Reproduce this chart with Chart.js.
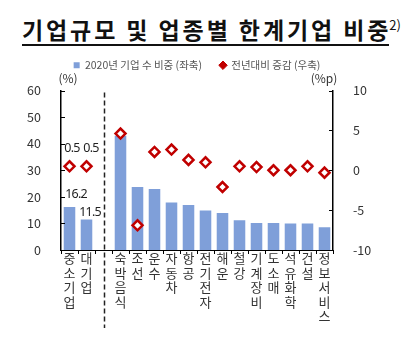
<!DOCTYPE html>
<html>
<head>
<meta charset="utf-8">
<script src="https://cdn.jsdelivr.net/npm/chart.js@4"></script>
<style>
  body { margin: 0; background: #fff; }
  #wrap { position: relative; width: 410px; height: 337px; }
  #title {
    position: absolute; left: 22px; top: 10px; width: 367px;
    font-family: "Noto Sans CJK KR"; font-weight: bold; font-size: 23px; letter-spacing: 2.9px;
    color: #111; border-bottom: 2px solid #111; line-height: 30px; padding-left: 0;
    box-sizing: border-box; white-space: nowrap;
  }
  #title sup { font-size: 13px; font-weight: normal; vertical-align: 9px; margin-left: -2px; letter-spacing: 0; }
  canvas { position: absolute; left: 0; top: 0; }
</style>
</head>
<body>
<div id="wrap">
  <div id="title">기업규모 및 업종별 한계기업 비중<sup>2)</sup></div>
  <canvas id="chart" width="410" height="337"></canvas>
</div>
<script>
// categories ('' is the gap slot where the dashed divider sits)
const categories = ['중소기업', '대기업', '', '숙박음식', '조선', '운수', '자동차', '항공', '전기전자',
    '해운', '철강', '기계장비', '도소매', '석유화학', '건설', '정보서비스'];
// 2020년 기업 수 비중 (좌축, %)
const shareValues = [16.2, 11.5, null, 43.0, 23.7, 22.9, 17.9, 16.9, 14.9, 13.9, 11.2, 10.2, 10.2, 10.0, 10.0, 8.6];
// 전년대비 증감 (우축, %p)
const changeValues = [0.5, 0.5, null, 4.6, -6.9, 2.3, 2.6, 1.3, 1.0, -2.1, 0.5, 0.4, 0.0, 0.0, 0.5, -0.3];
const labeledIndexes = [0, 1]; // only 기업규모 points carry value labels

const font = "'Noto Sans CJK KR', 'Noto Sans', sans-serif";

const extras = {
    id: 'extras',
    beforeInit(chart) {
        // leave a gap under the legend for the unit labels
        const fit = chart.legend.fit;
        chart.legend.fit = function () {
            fit.call(this);
            this.height += 10;
        };
    },
    afterDraw(chart) {
        const ctx = chart.ctx;
        const area = chart.chartArea;
        const x = chart.scales.x, y = chart.scales.y, y1 = chart.scales.y1;
        ctx.save();

        // inward tick marks on both value axes
        ctx.strokeStyle = '#000';
        ctx.lineWidth = 1;
        y.ticks.forEach(t => {
            const py = Math.round(y.getPixelForValue(t.value)) + 0.5;
            ctx.beginPath(); ctx.moveTo(area.left, py); ctx.lineTo(area.left + 4, py); ctx.stroke();
        });
        y1.ticks.forEach(t => {
            const py = Math.round(y1.getPixelForValue(t.value)) + 0.5;
            ctx.beginPath(); ctx.moveTo(area.right, py); ctx.lineTo(area.right - 4, py); ctx.stroke();
        });

        // dashed divider between 기업규모 and 업종
        const gx = Math.round(x.getPixelForValue(2)) + 0.5;
        ctx.setLineDash([5, 3]);
        ctx.lineWidth = 1.5;
        ctx.strokeStyle = '#222';
        ctx.beginPath(); ctx.moveTo(gx, area.top + 2); ctx.lineTo(gx, 328); ctx.stroke();
        ctx.setLineDash([]);

        // axis unit labels
        ctx.fillStyle = '#333';
        ctx.font = '12px ' + font;
        ctx.textBaseline = 'bottom';
        ctx.textAlign = 'center';
        ctx.fillText('(%)', area.left + 7, area.top - 6);
        ctx.fillText('(%p)', area.right - 9, area.top - 6);

        // value labels
        ctx.font = "12.5px 'Noto Sans', sans-serif";
        ctx.letterSpacing = '-0.8px';
        ctx.fillStyle = '#222';
        ctx.textBaseline = 'alphabetic';
        const barMeta = chart.getDatasetMeta(0), lineMeta = chart.getDatasetMeta(1);
        labeledIndexes.forEach(i => {
            const b = barMeta.data[i], p = lineMeta.data[i];
            const first = i === 0;
            ctx.fillText(shareValues[i].toFixed(1), b.x + (first ? 6.5 : 3.5), b.y - (first ? 9 : 3));
            ctx.fillText(changeValues[i].toFixed(1), p.x + (first ? 2.5 : 4.5), p.y - 14);
        });
        ctx.restore();
    }
};

new Chart(document.getElementById('chart'), {
    type: 'bar',
    data: {
        labels: categories.map(c => c.split('')),
        datasets: [{
            label: '2020년 기업 수 비중 (좌축)',
            data: shareValues,
            backgroundColor: '#7f9fd9',
            yAxisID: 'y',
            order: 1,
            pointStyle: 'rect',
            barPercentage: 0.68,
            categoryPercentage: 1
        }, {
            type: 'line',
            label: '전년대비 증감 (우축)',
            data: changeValues,
            yAxisID: 'y1',
            order: 0,
            showLine: false,
            pointStyle: 'rectRot',
            pointRadius: 5,
            pointBorderWidth: 2.5,
            borderColor: '#c00000',
            backgroundColor: '#fff',
            pointBackgroundColor: '#fff'
        }]
    },
    options: {
        responsive: false,
        animation: false,
        layout: { padding: { top: 42, right: 16 } },
        plugins: {
            legend: {
                position: 'top',
                labels: {
                    usePointStyle: true,
                    boxWidth: 6,
                    boxHeight: 6,
                    padding: 18,
                    color: '#555',
                    font: { family: font, size: 10.5 },
                    sort: (a, b) => a.datasetIndex - b.datasetIndex,
                    generateLabels(chart) {
                        const items = Chart.defaults.plugins.legend.labels.generateLabels(chart);
                        items.forEach(it => {
                            if (it.datasetIndex === 1) {
                                it.fillStyle = '#c00000';
                                it.lineWidth = 1;
                            }
                        });
                        return items;
                    }
                }
            },
            tooltip: { enabled: false }
        },
        scales: {
            x: {
                grid: { display: true, drawOnChartArea: false, drawTicks: true, tickLength: 4, color: '#000', offset: true },
                border: { color: '#000', width: 1 },
                ticks: {
                    color: '#333', padding: -3, maxRotation: 0, autoSkip: false,
                    font: { family: font, size: 13, lineHeight: 1.12 }
                },
                afterFit(scale) { scale.height = 87; }
            },
            y: {
                position: 'left',
                min: 0, max: 60,
                ticks: { stepSize: 10, color: '#333', padding: 12, font: { family: font, size: 12.5 } },
                grid: { display: false },
                border: { color: '#000', width: 1.5 },
                afterFit(scale) { scale.width = 61; }
            },
            y1: {
                position: 'right',
                min: -10, max: 10,
                ticks: { stepSize: 5, color: '#333', padding: 12, font: { family: font, size: 12.5 } },
                grid: { display: false },
                border: { color: '#000', width: 1.5 },
                afterFit(scale) { scale.width = 61; }
            }
        }
    },
    plugins: [extras]
});
</script>
</body>
</html>
